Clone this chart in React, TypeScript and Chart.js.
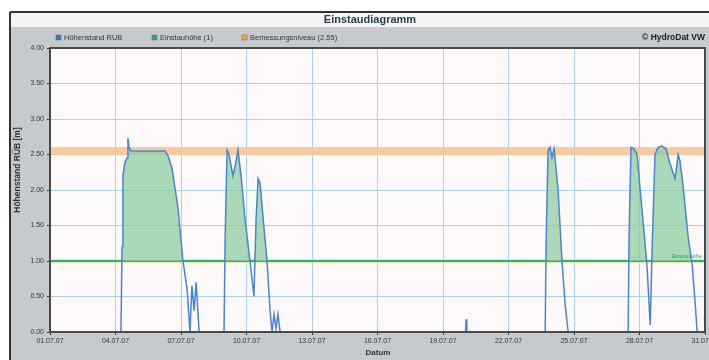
import React, { useEffect, useRef } from "react";
import { Chart, registerables } from "chart.js";

Chart.register(...registerables);

// Days since 01.07.07 (0 = 01.07.07, 30 = 31.07.07)
const levelDays = [
  0, 3.25, 3.3, 3.34, 3.44, 3.53, 3.57, 3.62, 3.71, 5.27, 5.41, 5.59, 5.86, 6.09, 6.28, 6.41, 6.5, 6.6, 6.69, 6.83,
  7.97, 8.02, 8.11, 8.2, 8.38, 8.52, 8.61, 8.75, 8.93, 9.16, 9.34, 9.44, 9.53, 9.62, 9.76, 9.94, 10.08, 10.17, 10.26, 10.35, 10.44, 10.54,
  19.03, 19.06, 19.09,
  22.68, 22.72, 22.81, 22.9, 22.99, 23.09, 23.27, 23.45, 23.59, 23.73,
  26.48, 26.52, 26.61, 26.75, 26.89, 27.03, 27.21, 27.35, 27.49, 27.58, 27.71, 27.85, 28.03, 28.21, 28.4, 28.63, 28.77, 28.86, 29.0, 29.23, 29.41, 29.55, 29.64, 30,
];
const levelValues = [
  0, 0, 1.2, 2.2, 2.4, 2.45, 2.73, 2.6, 2.55, 2.55, 2.48, 2.3, 1.75, 1.0, 0.6, 0, 0.65, 0.3, 0.7, 0,
  0, 1.3, 2.56, 2.5, 2.2, 2.4, 2.56, 2.2, 1.6, 1.0, 0.5, 1.6, 2.16, 2.1, 1.6, 1.0, 0.3, 0, 0.25, 0.05, 0.25, 0,
  0, 0.18, 0,
  0, 1.2, 2.55, 2.6, 2.45, 2.58, 2.0, 1.0, 0.4, 0,
  0, 1.3, 2.6, 2.58, 2.5, 2.0, 1.4, 0.9, 0.1, 1.2, 2.5, 2.6, 2.62, 2.58, 2.37, 2.16, 2.5, 2.4, 2.04, 1.33, 0.96, 0.4, 0, 0,
];

const einstauLevel = 1.0;
const bemessungLevel = 2.55;
const xRange = [0, 30];
const yTicksRange = [0, 4];

const titleText = "Einstaudiagramm";
const legendLabels = ["Höhenstand RÜB", "Einstauhöhe (1)", "Bemessungsniveau (2.55)"];
const legendColors = ["#3a78c4", "#2aa38c", "#f0a848"];
const yTitle = "Höhenstand RÜB [m]";
const xTitle = "Datum";
const copyright = "© HydroDat VW";

const fmtDate = (d: number) => {
  const day = Math.round(d) + 1;
  return (day < 10 ? "0" : "") + day + ".07.07";
};

const FONT = "'Liberation Sans', Arial, sans-serif";

export default function App() {
  const ref = useRef<HTMLCanvasElement | null>(null);

  useEffect(() => {
    if (!ref.current) return;

    const bgPlugin = {
      id: "bgPlugin",
      beforeDraw(chart: any) {
        const { ctx, chartArea: a } = chart;
        ctx.save();
        ctx.fillStyle = "#ffffff";
        ctx.fillRect(0, 0, 709, 360);
        ctx.fillStyle = "#c6cacf";
        ctx.fillRect(10, 12, 699, 348);
        ctx.fillStyle = "#f6f4f2";
        ctx.fillRect(10, 13, 699, 14);
        ctx.strokeStyle = "#333";
        ctx.lineWidth = 2;
        ctx.beginPath();
        ctx.moveTo(10, 12);
        ctx.lineTo(709, 12);
        ctx.moveTo(10, 12);
        ctx.lineTo(10, 360);
        ctx.stroke();
        ctx.fillStyle = "#fdf9f8";
        ctx.fillRect(a.left, a.top, a.right - a.left, a.bottom - a.top);
        ctx.restore();
      },
      afterDraw(chart: any) {
        const { ctx, chartArea: a } = chart;
        ctx.save();
        // plot frame
        ctx.strokeStyle = "#4a4a4a";
        ctx.lineWidth = 2;
        ctx.strokeRect(a.left, a.top, a.right - a.left, a.bottom - a.top);
        // title
        ctx.fillStyle = "#1f3f55";
        ctx.font = `bold 11px ${FONT}`;
        ctx.textAlign = "center";
        ctx.textBaseline = "middle";
        ctx.fillText(titleText, 370, 20);
        // legend
        ctx.font = `7.5px ${FONT}`;
        ctx.textAlign = "left";
        const lx = [56, 152, 242];
        legendLabels.forEach((t, i) => {
          ctx.fillStyle = legendColors[i];
          ctx.fillRect(lx[i], 35, 5, 5);
          ctx.strokeStyle = "#666";
          ctx.lineWidth = 0.5;
          ctx.strokeRect(lx[i], 35, 5, 5);
          ctx.fillStyle = "#333";
          ctx.fillText(t, lx[i] + 8, 38);
        });
        ctx.font = `bold 8.5px ${FONT}`;
        ctx.textAlign = "right";
        ctx.fillStyle = "#222";
        ctx.fillText(copyright, 705, 38);
        // y title
        ctx.save();
        ctx.translate(18, 170);
        ctx.rotate(-Math.PI / 2);
        ctx.textAlign = "center";
        ctx.font = `bold 8.5px ${FONT}`;
        ctx.fillStyle = "#333";
        ctx.fillText(yTitle, 0, 0);
        ctx.restore();
        // x title
        ctx.textAlign = "center";
        ctx.font = `bold 8px ${FONT}`;
        ctx.fillStyle = "#333";
        ctx.fillText(xTitle, 378, 353);
        // small line label
        const ys = chart.scales.y;
        ctx.textAlign = "right";
        ctx.font = `5.5px ${FONT}`;
        ctx.fillStyle = "#2aa36c";
        ctx.fillText("Einstauhöhe", 702, ys.getPixelForValue(einstauLevel) - 5);
        ctx.restore();
      },
    };

    const levelData = levelDays.map((d, i) => ({ x: d, y: levelValues[i] }));
    const einstauData = xRange.map((d) => ({ x: d, y: einstauLevel }));
    const bemessungData = xRange.map((d) => ({ x: d, y: bemessungLevel }));

    const chart = new Chart(ref.current, {
      type: "line",
      data: {
        datasets: [
          {
            label: legendLabels[0],
            data: levelData,
            borderColor: "#4a84d4",
            borderWidth: 1.5,
            pointRadius: 0,
            tension: 0,
            fill: { target: { value: einstauLevel }, above: "rgba(140,205,160,0.75)", below: "rgba(0,0,0,0)" },
          },
          {
            label: legendLabels[1],
            data: einstauData,
            borderColor: "#2fae82",
            borderWidth: 2,
            pointRadius: 0,
            fill: false,
          },
          {
            label: "yellow",
            data: einstauData,
            borderColor: "rgba(235,235,150,0.9)",
            borderWidth: 4,
            pointRadius: 0,
            fill: false,
          },
          {
            label: legendLabels[2],
            data: bemessungData,
            borderColor: "rgba(246,196,150,0.9)",
            borderWidth: 8,
            pointRadius: 0,
            fill: false,
          },
        ],
      },
      options: {
        responsive: false,
        animation: false,
        layout: { padding: { top: 48, right: 4, left: 0, bottom: 0 } },
        plugins: { legend: { display: false }, title: { display: false }, tooltip: { enabled: false } },
        scales: {
          x: {
            type: "linear",
            min: xRange[0],
            max: xRange[1],
            ticks: {
              stepSize: 3,
              autoSkip: false,
              maxRotation: 0,
              callback: (v: any) => fmtDate(Number(v)),
              font: { size: 7, family: FONT },
              color: "#333",
              padding: 2,
            },
            grid: { color: "#a9d3ea", lineWidth: 1, tickColor: "#333", tickLength: 3 },
            border: { display: false },
            afterFit: (s: any) => {
              s.height = 28;
              s.paddingLeft = 0;
              s.paddingRight = 0;
            },
          },
          y: {
            min: yTicksRange[0],
            max: yTicksRange[1],
            ticks: {
              stepSize: 0.5,
              callback: (v: any) => Number(v).toFixed(2),
              font: { size: 7, family: FONT },
              color: "#333",
              padding: 3,
            },
            grid: { color: "#a9d3ea", lineWidth: 1, tickColor: "#333", tickLength: 3 },
            border: { display: false },
            afterFit: (s: any) => {
              s.width = 50;
              s.paddingTop = 0;
              s.paddingBottom = 0;
            },
          },
        },
      },
      plugins: [bgPlugin],
    });

    return () => chart.destroy();
  }, []);

  return (
    <div style={{ position: "absolute", left: 0, top: 0, width: 709, height: 360 }}>
      <canvas ref={ref} width={709} height={360} style={{ width: 709, height: 360 }} />
    </div>
  );
}
